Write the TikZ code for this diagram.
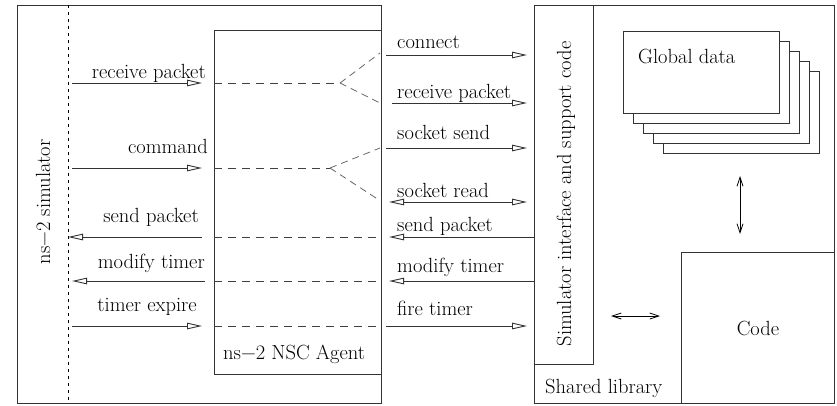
\documentclass[tikz,border=0pt]{standalone}
\usepackage{fontspec}
\usetikzlibrary{arrows.meta}
\begin{document}
\begin{tikzpicture}[x=1pt,y=-1pt,
  every node/.style={font=\rmfamily\fontsize{20.5}{24}\selectfont, inner sep=0pt},
  frame/.style={draw=black!80, line width=0.9pt},
  boxnode/.style={frame, anchor=north west},
  flow/.style={draw=black!80, line width=0.9pt, -{Triangle[open,length=15pt,width=6.5pt]}},
  bothflow/.style={draw=black!80, line width=0.9pt, {Triangle[open,length=15pt,width=6.5pt]}-{Triangle[open,length=15pt,width=6.5pt]}},
  barbs/.style={draw=black, line width=0.8pt, {Straight Barb[length=9pt,width=6pt]}-{Straight Barb[length=9pt,width=6pt]}},
  relay/.style={draw=black!75, line width=0.8pt, dash pattern=on 8pt off 6pt},
  fork/.style={draw=black!60, line width=0.8pt, dash pattern=on 7pt off 5pt},
  border/.style={draw=black, line width=0.9pt, dash pattern=on 3pt off 4pt},
  lblL/.style={anchor=base east},
  lblR/.style={anchor=base west}
]
\useasboundingbox (0,0) rectangle (837,405);

% ---- ns-2 simulator and the NSC agent ----
\node[boxnode, minimum width=364pt, minimum height=398pt] (sim) at (17,5) {};
\node[boxnode, minimum width=167pt, minimum height=344pt] (agent) at (214,30) {};
\coordinate (bt) at (68,5);
\coordinate (bb) at (68,403);
\draw[border] (bt) -- (bb);
\node[rotate=90] (simlbl) at (43,202) {ns−2 simulator};
\node[anchor=base west] (agentlbl) at (223,359) {ns−2 NSC Agent};

% ---- shared library ----
\node[boxnode, minimum width=300pt, minimum height=398pt] (lib) at (534,5) {};
\node[boxnode, minimum width=59pt, minimum height=359pt] (iface) at (534,5) {};
\node[boxnode, minimum width=153pt, minimum height=151pt] (code) at (681,252) {};
\node[rotate=90] (ifacelbl) at (566,194) {Simulator interface and support code};
\node[anchor=base west] (liblbl) at (545,393) {Shared library};
\node[anchor=base] (codelbl) at (758,335) {Code};

% stacked global data blocks
\foreach \k in {4,3,2,1}{
  \node[boxnode, fill=white, minimum width=156pt, minimum height=82pt] (gd\k) at (623+10*\k,31+10*\k) {};
}
\node[boxnode, fill=white, minimum width=156pt, minimum height=82pt] (gd0) at (623,31) {};
\node[anchor=base west] (gdlbl) at (638,63) {Global data};

% arrows inside the library
\coordinate (gdA) at (740,176);
\coordinate (gdB) at (740,234);
\draw[barbs] (gdA) -- (gdB);
\coordinate (ifA) at (611,316);
\coordinate (ifB) at (660,316);
\draw[barbs] (ifA) -- (ifB);

% ---- simulator <-> agent ----
\coordinate (l1a) at (72,83);   \coordinate (l1b) at (202,83);
\coordinate (l2a) at (72,168);  \coordinate (l2b) at (202,168);
\coordinate (l3a) at (202,237); \coordinate (l3b) at (68,237);
\coordinate (l4a) at (205,281); \coordinate (l4b) at (72,281);
\coordinate (l5a) at (72,326);  \coordinate (l5b) at (202,326);
\draw[flow] (l1a) -- (l1b);
\draw[flow] (l2a) -- (l2b);
\draw[flow] (l3a) -- (l3b);
\draw[flow] (l4a) -- (l4b);
\draw[flow] (l5a) -- (l5b);
\node[lblL] (t1) at (206,78)  {receive packet};
\node[lblL] (t2) at (208,153) {command};
\node[lblL] (t3) at (199,222) {send packet};
\node[lblL] (t4) at (205,268) {modify timer};
\node[lblL] (t5) at (197,311) {timer expire};

% ---- paths through the agent ----
\coordinate (d1) at (214,83);   \coordinate (j1) at (340,83);
\coordinate (d2) at (214,168);  \coordinate (j2) at (330,168);
\coordinate (e1) at (380,53);   \coordinate (e2) at (380,103);
\coordinate (e3) at (380,148);  \coordinate (e4) at (379,200);
\draw[relay] (d1) -- (j1);
\draw[relay] (d2) -- (j2);
\draw[fork] (j1) -- (e1);
\draw[fork] (j1) -- (e2);
\draw[fork] (j2) -- (e3);
\draw[fork] (j2) -- (e4);
\coordinate (d3) at (214,237); \coordinate (f3) at (381,237);
\coordinate (d4) at (214,281); \coordinate (f4) at (381,281);
\coordinate (d5) at (214,326); \coordinate (f5) at (381,326);
\draw[relay] (d3) -- (f3);
\draw[relay] (d4) -- (f4);
\draw[relay] (d5) -- (f5);

% ---- agent <-> shared library ----
\coordinate (r1a) at (386,55);  \coordinate (r1b) at (527,55);
\coordinate (r2a) at (392,103); \coordinate (r2b) at (527,103);
\coordinate (r3a) at (386,148); \coordinate (r3b) at (527,148);
\coordinate (r4a) at (389,202); \coordinate (r4b) at (527,202);
\coordinate (r5a) at (534,237); \coordinate (r5b) at (389,237);
\coordinate (r6a) at (534,281); \coordinate (r6b) at (389,281);
\coordinate (r7a) at (386,326); \coordinate (r7b) at (527,326);
\draw[flow] (r1a) -- (r1b);
\draw[flow] (r2a) -- (r2b);
\draw[flow] (r3a) -- (r3b);
\draw[bothflow] (r4a) -- (r4b);
\draw[flow] (r5a) -- (r5b);
\draw[flow] (r6a) -- (r6b);
\draw[flow] (r7a) -- (r7b);
\node[lblR] (u1) at (397,48)  {connect};
\node[lblR] (u2) at (397,98)  {receive packet};
\node[lblR] (u3) at (397,139) {socket send};
\node[lblR] (u4) at (397,197) {socket read};
\node[lblR] (u5) at (397,231) {send packet};
\node[lblR] (u6) at (397,272) {modify timer};
\node[lblR] (u7) at (397,315) {fire timer};
\end{tikzpicture}
\end{document}
